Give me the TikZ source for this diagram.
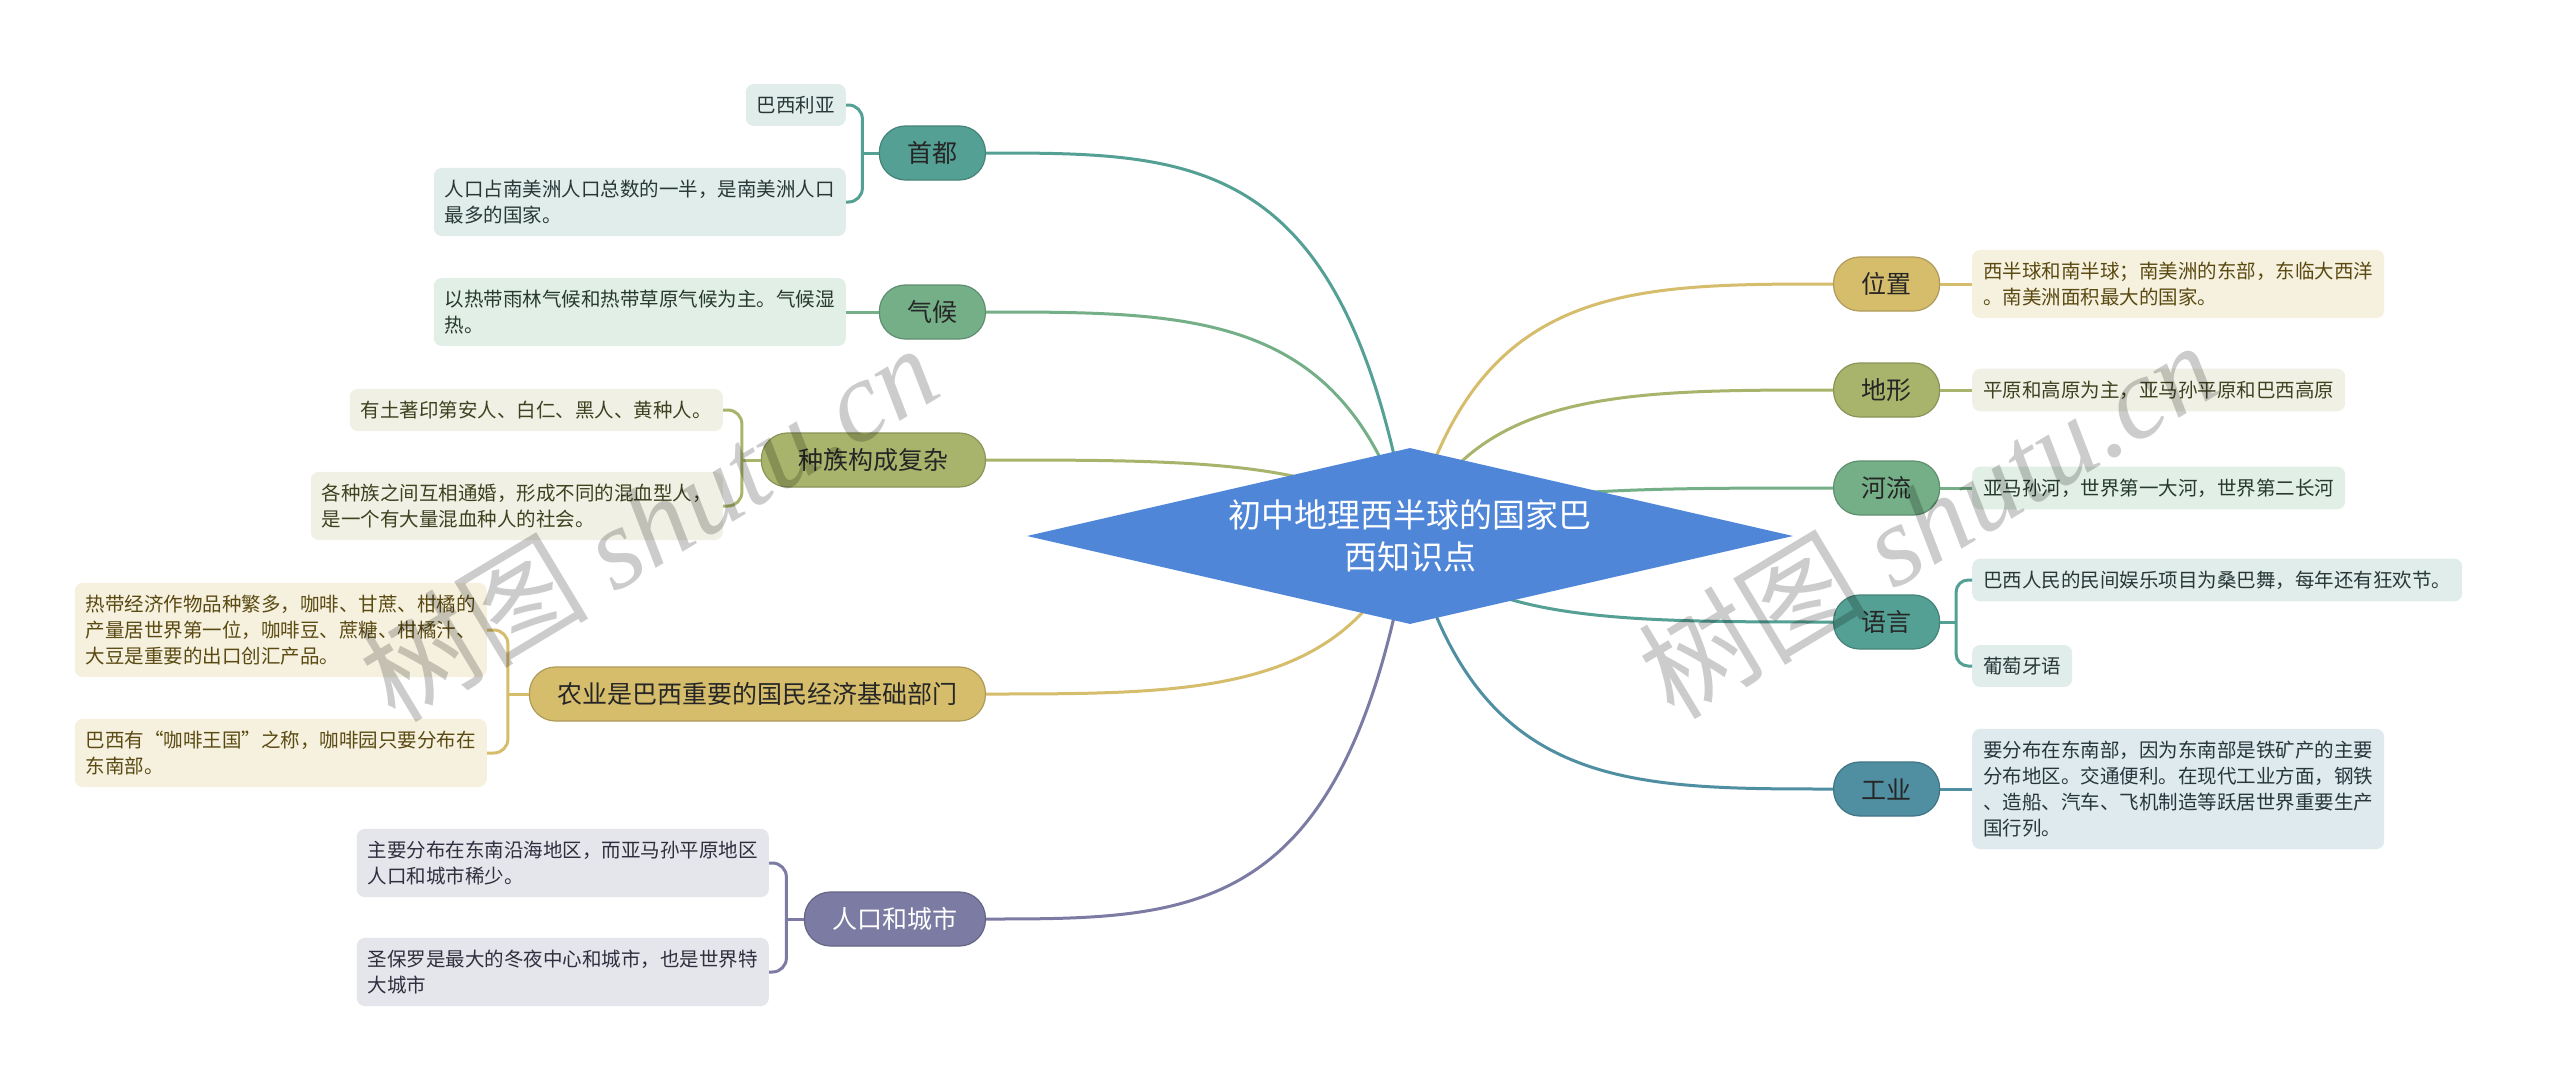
\documentclass[tikz,border=0pt]{standalone}
\usepackage{fontspec}
\setmainfont{Noto Sans CJK SC}
\newfontfamily\wmfont{Liberation Serif}
\usetikzlibrary{calc,shapes.geometric}
\pgfdeclarelayer{bg}
\pgfsetlayers{bg,main}

\definecolor{cTeal}{HTML}{54A094}
\definecolor{cGreen}{HTML}{74AF87}
\definecolor{cOlive}{HTML}{A8B46B}
\definecolor{cGold}{HTML}{D5BD6C}
\definecolor{cPurple}{HTML}{7B7BA3}
\definecolor{cBlue}{HTML}{4F8FA1}
\definecolor{cDia}{HTML}{4F86D8}
\definecolor{lTeal}{HTML}{E0EDEA}
\definecolor{lGreen}{HTML}{E2EFE6}
\definecolor{lOlive}{HTML}{F0F1E4}
\definecolor{lGold}{HTML}{F6F1DF}
\definecolor{lPurple}{HTML}{E5E5EC}
\definecolor{lBlue}{HTML}{DEEAEE}
\definecolor{tTeal}{HTML}{283836}
\definecolor{tGreen}{HTML}{273A2E}
\definecolor{tOlive}{HTML}{3E4220}
\definecolor{tGold}{HTML}{5A4A12}
\definecolor{tPurple}{HTML}{2F2F3F}
\definecolor{tBlue}{HTML}{26363C}

\newcommand\mainbranch[2]{%
  \draw[line width=3pt,#1] let \p1=(root.center), \p2=(#2) in
    (\p1) .. controls ({0.85*\x1+0.15*\x2},\y2) and ({0.5*\x1+0.5*\x2},\y2) .. (\p2);}

\begin{document}
\begin{tikzpicture}[x=1pt,y=-1pt,
  pill/.style={fill=#1, draw=#1!82!black, line width=1.2pt, rounded corners=26pt,
    minimum height=54pt, inner xsep=28pt, inner ysep=0pt,
    font=\fontsize{25}{30}\selectfont, text=black!85},
  leaf/.style={fill=#1, rounded corners=8pt, inner xsep=11pt, inner ysep=12pt,
    align=left, font=\fontsize{19.5}{26}\selectfont},
  wm/.style={rotate=31, text=black, text opacity=0.2}
]
\begin{pgfonlayer}{bg}
\fill[white] (0,0) rectangle (2560,1092);
\end{pgfonlayer}
\useasboundingbox (0,0) rectangle (2560,1092);

% central topic
\node[diamond, fill=cDia, aspect=4.35, minimum width=766pt, minimum height=176pt,
  inner sep=0pt, text=white, align=center, font=\fontsize{33}{42}\selectfont]
  (root) at (1410,536) {初中地理西半球的国家巴\\西知识点};

% main topic nodes
\node[pill=cTeal, anchor=east] (shoudu) at (986,153) {首都};
\node[pill=cGreen, anchor=east] (qihou) at (986,312) {气候};
\node[pill=cOlive, anchor=east, minimum width=224pt] (zhongzu) at (986,460) {种族构成复杂};
\node[pill=cGold, anchor=east] (nongye) at (986,694) {农业是巴西重要的国民经济基础部门};
\node[pill=cPurple, anchor=east, text=white] (renkou) at (986,919) {人口和城市};
\node[pill=cGold, anchor=west] (weizhi) at (1833,284) {位置};
\node[pill=cOlive, anchor=west] (dixing) at (1833,390) {地形};
\node[pill=cGreen, anchor=west] (heliu) at (1833,488) {河流};
\node[pill=cTeal, anchor=west] (yuyan) at (1833,622) {语言};
\node[pill=cBlue, anchor=west] (gongye) at (1833,789) {工业};

% main branches (behind the central diamond and the pills)
\begin{pgfonlayer}{bg}
\mainbranch{cTeal}{shoudu.east}
\mainbranch{cGreen}{qihou.east}
\mainbranch{cOlive}{zhongzu.east}
\mainbranch{cGold}{nongye.east}
\mainbranch{cPurple}{renkou.east}
\mainbranch{cGold}{weizhi.west}
\mainbranch{cOlive}{dixing.west}
\mainbranch{cGreen}{heliu.west}
\mainbranch{cTeal}{yuyan.west}
\mainbranch{cBlue}{gongye.west}
\end{pgfonlayer}

% leaves, left
\node[leaf=lTeal, text=tTeal, anchor=east] (l1) at (846,105) {巴西利亚};
\node[leaf=lTeal, text=tTeal, anchor=east] (l2) at (846,202) {人口占南美洲人口总数的一半，是南美洲人口\\最多的国家。};
\node[leaf=lGreen, text=tGreen, anchor=east] (l3) at (846,312) {以热带雨林气候和热带草原气候为主。气候湿\\热。};
\node[leaf=lOlive, text=tOlive, anchor=east] (l4) at (723,410) {有土著印第安人、白仁、黑人、黄种人。};
\node[leaf=lOlive, text=tOlive, anchor=east] (l5) at (723,506) {各种族之间互相通婚，形成不同的混血型人，\\是一个有大量混血种人的社会。};
\node[leaf=lGold, text=tGold, anchor=east] (l6) at (487,630) {热带经济作物品种繁多，咖啡、甘蔗、柑橘的\\产量居世界第一位，咖啡豆、蔗糖、柑橘汁、\\大豆是重要的出口创汇产品。};
\node[leaf=lGold, text=tGold, anchor=east] (l7) at (487,753) {巴西有“咖啡王国”之称，咖啡园只要分布在\\东南部。};
\node[leaf=lPurple, text=tPurple, anchor=east] (l8) at (769,863) {主要分布在东南沿海地区，而亚马孙平原地区\\人口和城市稀少。};
\node[leaf=lPurple, text=tPurple, anchor=east] (l9) at (769,972) {圣保罗是最大的冬夜中心和城市，也是世界特\\大城市};

% leaves, right
\node[leaf=lGold, text=tGold, anchor=west] (r1) at (1972,284) {西半球和南半球；南美洲的东部，东临大西洋\\。南美洲面积最大的国家。};
\node[leaf=lOlive, text=tOlive, anchor=west] (r2) at (1972,390) {平原和高原为主，亚马孙平原和巴西高原};
\node[leaf=lGreen, text=tGreen, anchor=west] (r3) at (1972,488) {亚马孙河，世界第一大河，世界第二长河};
\node[leaf=lTeal, text=tTeal, anchor=west] (r4) at (1972,580) {巴西人民的民间娱乐项目为桑巴舞，每年还有狂欢节。};
\node[leaf=lTeal, text=tTeal, anchor=west] (r5) at (1972,666) {葡萄牙语};
\node[leaf=lBlue, text=tBlue, anchor=west] (r6) at (1972,789) {要分布在东南部，因为东南部是铁矿产的主要\\分布地区。交通便利。在现代工业方面，钢铁\\、造船、汽车、飞机制造等跃居世界重要生产\\国行列。};

% bracket connectors
\coordinate (b1) at ($(shoudu.west)!0.5!(shoudu.west -| l1.east)$);
\draw[line width=3pt, cTeal] (shoudu.west) -- (b1);
\draw[line width=3pt, cTeal, rounded corners=14pt] (l1.east) -| (b1) |- (l2.east);
\draw[line width=3pt, cGreen] (qihou.west) -- (l3.east);
\coordinate (b2) at ($(zhongzu.west)!0.5!(zhongzu.west -| l4.east)$);
\draw[line width=3pt, cOlive] (zhongzu.west) -- (b2);
\draw[line width=3pt, cOlive, rounded corners=14pt] (l4.east) -| (b2) |- (l5.east);
\coordinate (b3) at ($(nongye.west)!0.5!(nongye.west -| l6.east)$);
\draw[line width=3pt, cGold] (nongye.west) -- (b3);
\draw[line width=3pt, cGold, rounded corners=14pt] (l6.east) -| (b3) |- (l7.east);
\coordinate (b4) at ($(renkou.west)!0.5!(renkou.west -| l8.east)$);
\draw[line width=3pt, cPurple] (renkou.west) -- (b4);
\draw[line width=3pt, cPurple, rounded corners=14pt] (l8.east) -| (b4) |- (l9.east);
\draw[line width=3pt, cGold] (weizhi.east) -- (r1.west);
\draw[line width=3pt, cOlive] (dixing.east) -- (r2.west);
\draw[line width=3pt, cGreen] (heliu.east) -- (r3.west);
\coordinate (b5) at ($(yuyan.east)!0.5!(yuyan.east -| r4.west)$);
\draw[line width=3pt, cTeal] (yuyan.east) -- (b5);
\draw[line width=3pt, cTeal, rounded corners=12pt] (r4.west) -| (b5) |- (r5.west);
\draw[line width=3pt, cBlue] (gongye.east) -- (r6.west);

% watermark
\node[wm, font=\fontsize{115}{120}\selectfont] (wm1) at (648,522) {树图 {\wmfont\itshape shutu.cn}};
\node[wm, font=\fontsize{115}{120}\selectfont] (wm2) at (1927,519) {树图 {\wmfont\itshape shutu.cn}};
\end{tikzpicture}
\end{document}
